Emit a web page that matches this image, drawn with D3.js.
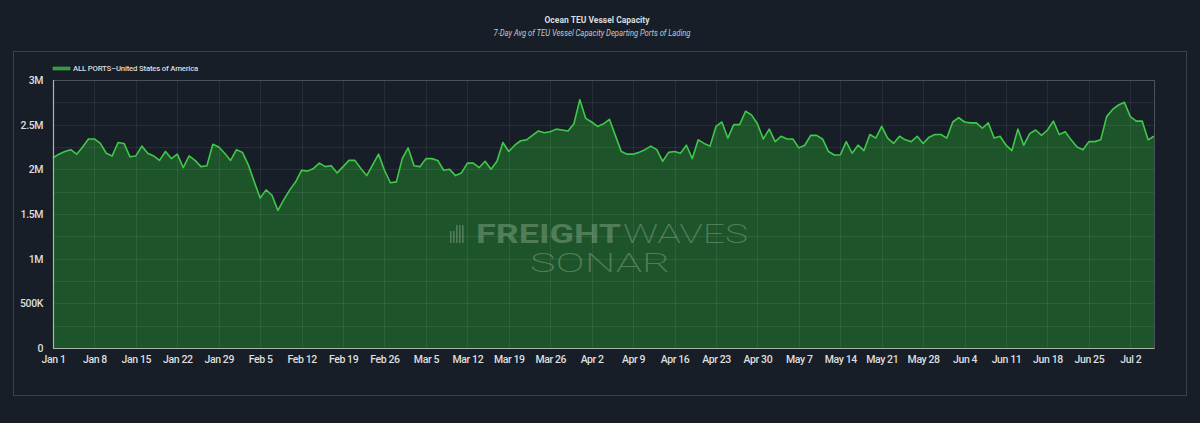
<!DOCTYPE html>
<html>
<head>
<meta charset="utf-8">
<script src="https://cdn.jsdelivr.net/npm/d3@7"></script>
<style>
  html, body { margin: 0; padding: 0; background: #171e27; }
  svg { display: block; }
  text { font-family: Roboto, "Liberation Sans", sans-serif; }
</style>
</head>
<body>
<svg id="chart" width="1200" height="423"></svg>
<script>
// ---- data ----
const title = "Ocean TEU Vessel Capacity";
const subtitle = "7-Day Avg of TEU Vessel Capacity Departing Ports of Lading";
const seriesName = "ALL PORTS–United States of America";
const startDate = "2023-01-01";
// daily values, millions of TEU (Jan 1 .. Jul 6)
const values = [
  2.13,2.17,2.20,2.22,2.17,2.25,2.34,2.34,2.29,2.18,2.15,2.30,2.29,2.14,2.15,2.26,2.18,2.15,2.10,2.20,
  2.12,2.17,2.02,2.15,2.10,2.03,2.04,2.28,2.25,2.18,2.10,2.22,2.19,2.05,1.86,1.68,1.77,1.71,1.54,1.66,
  1.77,1.86,1.99,1.98,2.01,2.07,
  2.03,2.04,1.96,2.03,2.10,2.10,2.01,1.93,2.05,2.17,1.99,1.85,1.86,2.12,2.24,2.04,2.03,2.12,2.12,2.10,
  1.99,2.00,1.93,1.96,2.07,2.07,2.02,2.09,2.00,2.09,2.30,2.20,2.27,2.32,2.33,2.38,2.43,2.41,2.42,2.45,
  2.44,2.43,2.51,2.78,
  2.57,2.53,2.48,2.51,2.56,2.38,2.20,2.17,2.17,2.19,2.22,2.26,2.22,2.09,2.19,2.20,2.18,2.27,2.12,2.33,
  2.29,2.26,2.48,2.53,2.35,2.50,2.50,2.65,2.61,2.51,
  2.34,2.45,2.31,2.37,2.34,2.34,2.24,2.27,2.38,2.38,2.34,2.20,2.16,2.16,2.31,2.18,2.27,2.21,2.39,2.35,
  2.48,2.35,2.29,2.37,
  2.33,2.31,2.37,2.29,2.36,2.39,2.39,2.35,2.53,2.58,2.53,2.52,2.52,2.46,2.52,2.35,2.37,2.27,2.21,2.45,
  2.27,2.40,2.44,2.38,2.44,2.54,2.39,2.42,2.33,2.25,2.22,2.31,2.31,2.33,2.59,2.67,2.72,2.75,2.59,2.54,
  2.54,2.33,2.37
];
const yTickValues = [0, 0.5, 1, 1.5, 2, 2.5, 3];
const yTickLabels = ["0", "500K", "1M", "1.5M", "2M", "2.5M", "3M"];
const yGridValues = [0.25, 0.5, 0.75, 1, 1.25, 1.5, 1.75, 2, 2.25, 2.5, 2.75];
const xTickLabels = ["Jan 1","Jan 8","Jan 15","Jan 22","Jan 29","Feb 5","Feb 12","Feb 19","Feb 26",
  "Mar 5","Mar 12","Mar 19","Mar 26","Apr 2","Apr 9","Apr 16","Apr 23","Apr 30","May 7","May 14",
  "May 21","May 28","Jun 4","Jun 11","Jun 18","Jun 25","Jul 2"];

// ---- build ----
const parse = d3.timeParse("%Y-%m-%d");
const t0 = parse(startDate);
const data = values.map((v, i) => ({ date: d3.timeDay.offset(t0, i), value: v }));
const xTicks = xTickLabels.map((_, i) => d3.timeDay.offset(t0, i * 7));

const svg = d3.select("#chart");
const W = 1200, H = 423;
const plot = { left: 53, right: 1154, top: 80, bottom: 348 };

svg.append("rect").attr("width", W).attr("height", H).attr("fill", "#171e27");

// outer panel
svg.append("rect")
  .attr("x", 13.5).attr("y", 51.5).attr("width", 1173).attr("height", 344)
  .attr("fill", "#171e27").attr("stroke", "#3a414b").attr("stroke-width", 1);

// titles
svg.append("text").attr("x", 597).attr("y", 23)
  .attr("text-anchor", "middle").attr("fill", "#dcdcdc")
  .attr("font-size", 9).attr("font-weight", 700)
  .attr("textLength", 105).attr("lengthAdjust", "spacingAndGlyphs")
  .text(title);
svg.append("text").attr("x", 592).attr("y", 36)
  .attr("text-anchor", "middle").attr("fill", "#c8c8c8")
  .attr("font-size", 8.5).attr("font-style", "italic")
  .attr("textLength", 197).attr("lengthAdjust", "spacingAndGlyphs")
  .text(subtitle);

const x = d3.scaleTime()
  .domain([t0, data[data.length - 1].date])
  .range([plot.left, plot.right]);
const y = d3.scaleLinear().domain([0, 3]).range([plot.bottom, plot.top]);

// area + line
const area = d3.area().x(d => x(d.date)).y0(y(0)).y1(d => y(d.value)).curve(d3.curveLinear);
const line = d3.line().x(d => x(d.date)).y(d => y(d.value)).curve(d3.curveLinear);

svg.append("path").datum(data).attr("d", area).attr("fill", "#1d5429");

// watermark
const wm = svg.append("g").attr("fill", "#8fae91").attr("opacity", 0.45);
for (let i = 0; i < 5; i++) {
  wm.append("rect").attr("x", 450 + i * 3).attr("y", 225 + (i < 2 ? 6 : 0))
    .attr("width", 1.6).attr("height", i < 2 ? 12 : 18);
}
wm.append("text").attr("x", 476).attr("y", 243)
  .attr("font-family", "'DejaVu Sans', sans-serif").attr("font-weight", 700).attr("font-size", 25)
  .attr("textLength", 145).attr("lengthAdjust", "spacingAndGlyphs").text("FREIGHT");
wm.append("text").attr("x", 623).attr("y", 243)
  .attr("font-family", "'DejaVu Sans', sans-serif").attr("font-weight", 200).attr("font-size", 25)
  .attr("textLength", 125).attr("lengthAdjust", "spacingAndGlyphs").text("WAVES");
wm.append("text").attr("x", 530).attr("y", 272)
  .attr("font-family", "'DejaVu Sans', sans-serif").attr("font-weight", 200).attr("font-size", 25)
  .attr("textLength", 140).attr("lengthAdjust", "spacingAndGlyphs").text("SONAR");

// gridlines
const grid = svg.append("g").attr("stroke", "#ffffff").attr("stroke-opacity", 0.07).attr("stroke-width", 1);
grid.selectAll("line.h").data(yGridValues).join("line")
  .attr("x1", plot.left).attr("x2", plot.right)
  .attr("y1", d => Math.round(y(d)) + 0.5).attr("y2", d => Math.round(y(d)) + 0.5);
grid.selectAll("line.v").data(xTicks.slice(1)).join("line")
  .attr("y1", plot.top).attr("y2", plot.bottom)
  .attr("x1", d => Math.round(x(d)) + 0.5).attr("x2", d => Math.round(x(d)) + 0.5);

svg.append("path").datum(data).attr("d", line)
  .attr("fill", "none").attr("stroke", "#3fc84a").attr("stroke-width", 1.6)
  .attr("stroke-linejoin", "round");

// plot border
svg.append("rect")
  .attr("x", plot.left + 0.5).attr("y", plot.top + 0.5)
  .attr("width", plot.right - plot.left).attr("height", plot.bottom - plot.top)
  .attr("fill", "none").attr("stroke", "#4a5159").attr("stroke-width", 1);
svg.append("line").attr("x1", plot.left + 0.5).attr("x2", plot.left + 0.5)
  .attr("y1", plot.top).attr("y2", plot.bottom + 0.5).attr("stroke", "#a9b5ad").attr("stroke-width", 1.2);
svg.append("line").attr("x1", plot.left).attr("x2", plot.right + 0.5)
  .attr("y1", plot.bottom + 0.5).attr("y2", plot.bottom + 0.5).attr("stroke", "#a9b5ad").attr("stroke-width", 1.2);

// axes
const yAxis = d3.axisLeft(y).tickValues(yTickValues)
  .tickFormat((d, i) => yTickLabels[i]).tickSize(0).tickPadding(10);
const gy = svg.append("g").attr("transform", `translate(${plot.left},0)`).call(yAxis);
gy.select(".domain").remove();
gy.selectAll("text").attr("fill", "#dedede").attr("font-size", 10.5).attr("font-weight", 500)
  .attr("font-family", "Roboto, sans-serif").attr("letter-spacing", -0.4);

const xAxis = d3.axisBottom(x).tickValues(xTicks)
  .tickFormat((d, i) => xTickLabels[i]).tickSize(0).tickPadding(8);
const gx = svg.append("g").attr("transform", `translate(0,${plot.bottom})`).call(xAxis);
gx.select(".domain").remove();
gx.selectAll("text").attr("fill", "#dedede").attr("font-size", 10.5).attr("font-weight", 500)
  .attr("font-family", "Roboto, sans-serif").attr("letter-spacing", -0.4);

// legend
svg.append("rect").attr("x", 53).attr("y", 67).attr("width", 17).attr("height", 3)
  .attr("fill", "#2f9a3a").attr("stroke", "#3fc84a").attr("stroke-width", 0.5);
svg.append("text").attr("x", 73).attr("y", 71).attr("fill", "#dcdcdc")
  .attr("font-size", 8).attr("font-weight", 500).attr("letter-spacing", -0.2)
  .attr("textLength", 125).attr("lengthAdjust", "spacingAndGlyphs")
  .text(seriesName);
</script>
</body>
</html>
